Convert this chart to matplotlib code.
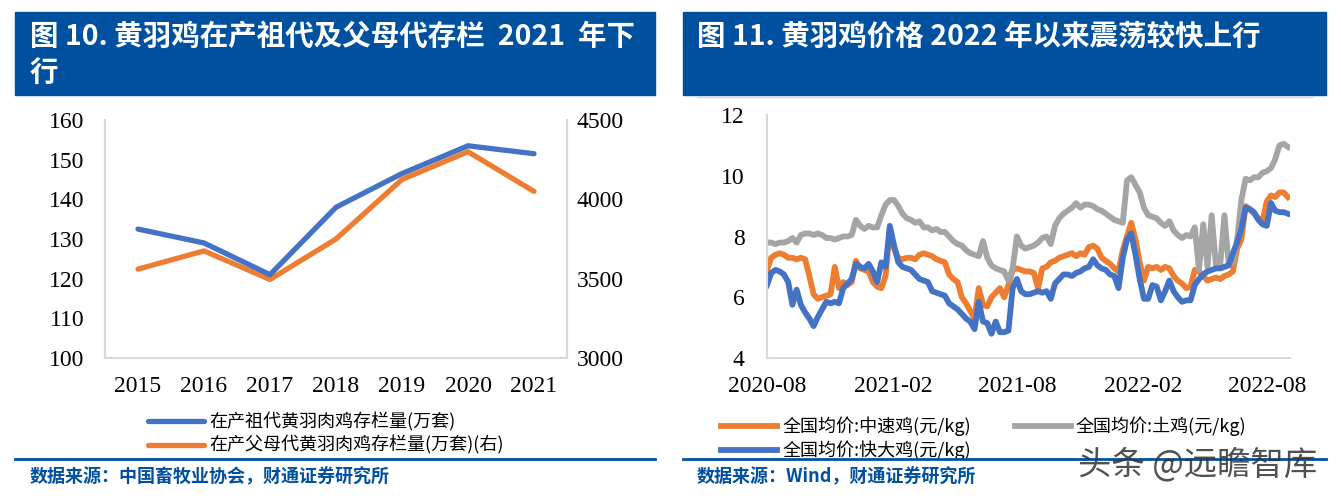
import numpy as np
import pandas as pd
import matplotlib
matplotlib.use("Agg")
import matplotlib.pyplot as plt
import matplotlib.dates as mdates
from matplotlib.lines import Line2D
from matplotlib.patches import Rectangle

plt.rcParams['font.family'] = ['Noto Sans CJK SC', 'DejaVu Sans']

# left chart: stock of grandparent / parent flocks
years = ["2015", "2016", "2017", "2018", "2019", "2020", "2021"]
grand_stock = [132.5, 129.0, 121.0, 138.0, 146.5, 153.5, 151.5]
parent_stock = [3560, 3675, 3495, 3750, 4125, 4300, 4050]
left_labels = ["在产祖代黄羽肉鸡存栏量(万套)", "在产父母代黄羽肉鸡存栏量(万套)(右)"]

# right chart: national average prices (yuan/kg), roughly weekly readings
price_start = "2020-08-01"
price_end = "2022-08-31"
price_tuji = [
    7.8, 7.8, 7.75, 7.8, 7.8, 7.85, 7.95, 7.8, 8.05, 8.1, 8.1, 8.05, 8.1, 8.05,
    7.95, 7.95, 7.9, 7.95, 8.0, 8.0, 8.05, 8.55, 8.35, 8.25, 8.35, 8.3, 8.3, 8.7,
    9.05, 9.2, 9.2, 9.0, 8.75, 8.6, 8.55, 8.45, 8.5, 8.3, 8.3, 8.2, 8.25, 8.15,
    8.15, 8.0, 7.85, 7.75, 7.7, 7.55, 7.45, 7.4, 7.35, 7.85, 7.3, 7.05, 6.95, 6.9,
    6.85, 6.55, 6.95, 8.0, 7.7, 7.6, 7.65, 7.7, 7.8, 7.95, 8.0, 7.75, 8.35, 8.6,
    8.75, 8.85, 8.95, 9.1, 8.95, 9.05, 9.05, 9.0, 8.9, 8.85, 8.75, 8.65, 8.55, 8.5,
    8.45, 9.85, 9.95, 9.7, 9.45, 8.95, 8.7, 8.65, 8.6, 8.45, 8.35, 8.5, 8.2, 8.05,
    7.95, 8.05, 8.0, 8.3, 6.9, 8.4, 7.0, 8.7, 7.05, 7.05, 8.7, 7.1, 7.15, 7.9,
    9.2, 9.9, 9.85, 9.95, 9.95, 10.1, 10.15, 10.25, 10.55, 11.0, 11.05, 10.95]
price_zhongsu = [
    6.9, 7.3, 7.4, 7.45, 7.4, 7.3, 7.3, 7.25, 7.3, 7.25, 6.7, 6.1, 5.95, 6.0,
    6.05, 6.1, 7.0, 6.3, 6.5, 6.4, 6.5, 7.2, 6.95, 6.9, 6.85, 6.5, 6.35, 6.3,
    6.7, 8.25, 7.6, 7.3, 7.25, 7.3, 7.3, 7.25, 7.4, 7.45, 7.4, 7.35, 7.25, 7.2,
    7.15, 6.75, 6.6, 6.5, 6.0, 5.8, 5.55, 5.3, 6.3, 5.75, 5.7, 6.0, 6.15, 6.3,
    6.0, 6.4, 6.9, 6.95, 6.9, 6.85, 6.85, 6.8, 6.3, 6.95, 7.0, 7.15, 7.2, 7.3,
    7.35, 7.4, 7.45, 7.35, 7.45, 7.4, 7.65, 7.7, 7.6, 7.3, 7.2, 7.1, 6.95, 6.85,
    7.55, 8.0, 8.45, 7.9, 7.15, 6.55, 7.0, 6.95, 7.0, 6.9, 7.0, 6.95, 6.7, 6.55,
    6.45, 6.3, 6.35, 6.9, 6.85, 6.7, 6.55, 6.6, 6.65, 6.6, 6.7, 6.75, 6.85, 7.6,
    7.9, 9.0, 8.9, 8.75, 8.6, 8.5, 9.15, 9.35, 9.3, 9.45, 9.45, 9.3]
price_kuaida = [
    6.4, 6.8, 6.9, 6.85, 6.75, 6.5, 5.75, 6.25, 5.75, 5.5, 5.3, 5.05, 5.35, 5.6,
    5.85, 5.8, 5.85, 5.8, 6.3, 6.45, 6.6, 7.1, 7.0, 6.95, 7.1, 6.85, 6.5, 7.15,
    7.0, 8.35, 7.7, 7.15, 7.0, 6.95, 6.9, 6.75, 6.6, 6.55, 6.5, 6.2, 6.15, 6.1,
    6.05, 5.8, 5.7, 5.6, 5.45, 5.3, 5.2, 4.95, 5.85, 5.2, 5.15, 4.8, 5.2, 4.85,
    4.85, 4.9, 6.3, 6.6, 6.2, 6.1, 6.1, 6.15, 6.2, 6.15, 6.2, 5.95, 6.45, 6.6,
    6.75, 6.75, 6.7, 6.8, 6.85, 6.95, 7.0, 7.25, 7.05, 6.95, 6.9, 6.75, 6.7, 6.3,
    7.3, 7.9, 8.1, 7.4, 6.6, 5.95, 5.95, 6.4, 6.35, 5.9, 6.2, 6.55, 6.2, 6.0,
    5.85, 5.9, 5.9, 6.4, 6.6, 6.75, 6.85, 6.9, 6.95, 6.95, 7.0, 7.05, 7.45, 7.8,
    8.25, 8.95, 8.9, 8.8, 8.55, 8.4, 8.35, 9.1, 8.85, 8.8, 8.8, 8.75]
right_labels = ["全国均价:中速鸡(元/kg)", "全国均价:土鸡(元/kg)", "全国均价:快大鸡(元/kg)"]
date_ticks = ["2020-08-01", "2021-02-01", "2021-08-01", "2022-02-01", "2022-08-01"]

blue = "#4472C4"
orange = "#ED7D31"
gray = "#A5A5A5"
navy = "#0050A0"
spine = "#D9D9D9"
serif = "Liberation Serif"
cjk = ['Noto Sans CJK SC', 'DejaVu Sans']
legend_font = {"family": cjk, "size": 13, "weight": "light"}

W, H = 1341, 499
fig = plt.figure(figsize=(W / 100, H / 100), dpi=100)


def fx(px):
    return px / W


def fy(py):
    return 1 - py / H


# banners
for x0, x1 in [(15, 655), (683, 1326)]:
    fig.patches.append(Rectangle((fx(x0), fy(95)), fx(x1 - x0), (95 - 12) / H,
                                 transform=fig.transFigure, color=navy, zorder=0))
fig.text(fx(30), fy(37), "图 10. 黄羽鸡在产祖代及父母代存栏  2021  年下", color="white",
         fontsize=20.5, fontweight="bold", va="center", family=cjk)
fig.text(fx(30), fy(74), "行", color="white", fontsize=20.5, fontweight="bold",
         va="center", family=cjk)
fig.text(fx(697), fy(37), "图 11. 黄羽鸡价格 2022 年以来震荡较快上行", color="white",
         fontsize=20.5, fontweight="bold", va="center", family=cjk)
fig.add_artist(Line2D([fx(697), fx(1312)], [fy(97), fy(97)], color=spine, lw=1))

# ---- left chart
ax1 = fig.add_axes([fx(105), fy(358), fx(567 - 105), (358 - 120) / H])
x = np.arange(len(years))
l1, = ax1.plot(x, grand_stock, color=blue, lw=3.8, solid_capstyle="round")
ax1.set_ylim(100, 160)
ax1.set_yticks(range(100, 161, 10))
ax1.set_xlim(-0.5, len(years) - 0.5)
ax1.set_xticks(x)
ax1.set_xticklabels(years)
ax1r = ax1.twinx()
l2, = ax1r.plot(x, parent_stock, color=orange, lw=3.8, solid_capstyle="round")
ax1r.set_ylim(3000, 4500)
ax1r.set_yticks(range(3000, 4501, 500))
ax1.set_zorder(ax1r.get_zorder() + 1)
ax1.patch.set_visible(False)
for a in (ax1, ax1r):
    a.spines["top"].set_visible(False)
    for s in ("left", "right", "bottom"):
        a.spines[s].set_color(spine)
        a.spines[s].set_linewidth(1.5)
    a.tick_params(length=0, labelsize=17)
    for t in a.get_xticklabels() + a.get_yticklabels():
        t.set_family(serif)
ax1.tick_params(axis="x", pad=13)
ax1.tick_params(axis="y", pad=15)
ax1r.tick_params(axis="y", pad=7)
ax1.legend([l1, l2], left_labels, loc="upper left", bbox_to_anchor=(fx(141), fy(405)),
           bbox_transform=fig.transFigure, frameon=False, prop=legend_font,
           handlelength=3.1, handletextpad=0.3, labelspacing=0.25, borderaxespad=0)

# ---- right chart
dates = pd.date_range(price_start, price_end, periods=len(price_tuji))
ax2 = fig.add_axes([fx(767), fy(358), fx(1290 - 767), (358 - 115) / H])
o, = ax2.plot(dates, price_zhongsu, color=orange, lw=4.2)
g, = ax2.plot(dates, price_tuji, color=gray, lw=4.2)
b, = ax2.plot(dates, price_kuaida, color=blue, lw=4.2)
ax2.set_ylim(4, 12)
ax2.set_yticks(range(4, 13, 2))
ax2.set_xlim(pd.Timestamp(price_start), pd.Timestamp(price_end) + pd.Timedelta(days=3))
ax2.set_xticks(pd.to_datetime(date_ticks))
ax2.xaxis.set_major_formatter(mdates.DateFormatter("%Y-%m"))
for s in ("top", "right"):
    ax2.spines[s].set_visible(False)
for s in ("left", "bottom"):
    ax2.spines[s].set_color(spine)
    ax2.spines[s].set_linewidth(1.5)
ax2.tick_params(length=0, labelsize=17)
ax2.tick_params(axis="x", pad=13)
ax2.tick_params(axis="y", pad=16)
for t in ax2.get_xticklabels() + ax2.get_yticklabels():
    t.set_family(serif)
ax2.legend([o, b, g], [right_labels[0], right_labels[2], right_labels[1]], ncol=2,
           loc="upper left", bbox_to_anchor=(fx(714), fy(409)), bbox_transform=fig.transFigure,
           frameon=False, prop=legend_font, handlelength=3.1, handletextpad=0.3,
           labelspacing=0.25, columnspacing=2.4, borderaxespad=0)

# footers
for x0, x1 in [(15, 655), (683, 1326)]:
    fig.add_artist(Line2D([fx(x0), fx(x1)], [fy(459), fy(459)], color=navy, lw=2))
fig.text(fx(30), fy(477), "数据来源：中国畜牧业协会，财通证券研究所", color=navy,
         fontsize=13, fontweight="bold", va="center", family=cjk)
fig.text(fx(697), fy(477), "数据来源：Wind，财通证券研究所", color=navy,
         fontsize=13, fontweight="bold", va="center", family=cjk)
fig.text(fx(1078), fy(465), "头条 @远瞻智库", color="#333333", fontsize=24,
         va="center", family=cjk, fontweight="light", alpha=0.85)

fig.savefig("out.png", dpi=100)
